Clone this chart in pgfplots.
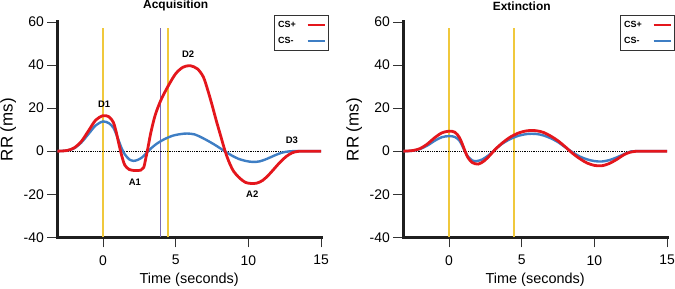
\documentclass[border=0pt]{standalone}
\usepackage{fontspec}
\setmainfont{Liberation Sans}
\usepackage{pgfplots}
\pgfplotsset{compat=1.18}
\definecolor{cred}{RGB}{228,22,28}
\definecolor{cblue}{RGB}{62,126,196}
\definecolor{cgold}{RGB}{240,200,60}
\definecolor{cpurple}{RGB}{120,105,180}

\pgfplotstableread{
x y
-3.15 0
-2.5 0.3
-2 1.5
-1.5 4.5
-1 9.5
-0.5 14.5
0 16.5
0.4 16
0.7 13.5
0.9 9
1.1 3
1.3 -2.5
1.5 -6.5
1.8 -8.5
2.2 -9
2.6 -8.8
2.8 -7.5
2.95 -3
3.1 2
3.3 9
3.6 17
4.0 24
4.5 30.5
5.0 36
5.5 39
6.0 39.7
6.5 38.2
6.9 34.5
7.2 28.5
7.5 21.5
7.8 14
8.1 7
8.4 0
8.7 -5.5
9.0 -9.5
9.4 -12.5
9.8 -14.5
10.2 -15
10.6 -14.8
11.0 -13.5
11.4 -11
11.8 -8
12.2 -5
12.6 -2.5
13.0 -0.8
13.4 -0.1
14 0
15 0
}\acqplus

\pgfplotstableread{
x y
-3.15 0
-2.5 0.3
-2 1.3
-1.5 4
-1 8
-0.5 12
0 13.8
0.4 13
0.7 11
0.9 8
1.1 4.5
1.3 1
1.5 -1.5
1.8 -3.8
2.1 -4.5
2.4 -4
2.7 -2.8
3.0 -0.8
3.3 1.3
3.7 3.5
4.2 5.5
4.8 7.2
5.4 8
5.8 8.2
6.3 7.8
6.8 6.3
7.3 4.5
7.8 2.5
8.3 0.3
8.8 -1.8
9.3 -3.5
9.8 -4.5
10.3 -5
10.8 -4.7
11.3 -3.5
11.8 -2
12.3 -0.7
12.8 -0.1
13.2 0
15 0
}\acqminus

\pgfplotstableread{
x y
-3.15 0
-2.5 0.3
-2 1.2
-1.5 3.3
-1 6.2
-0.5 8.5
0 9.3
0.4 8.8
0.7 6.5
0.9 3.5
1.1 0
1.3 -3
1.6 -5.3
2.0 -6
2.4 -4.6
2.8 -2
3.2 1
3.7 4
4.2 6.5
4.8 8.5
5.4 9.5
6.0 9.5
6.5 8.7
7.0 7
7.5 4.8
8.0 2
8.5 -1
9.0 -3.5
9.5 -5.5
10.0 -6.6
10.5 -6.8
11.0 -5.8
11.5 -4
12.0 -1.8
12.4 -0.6
12.8 -0.1
13.2 0
15 0
}\extplus

\pgfplotstableread{
x y
-3.15 0
-2.5 0.2
-2 1
-1.5 2.6
-1 4.8
-0.5 6.5
0 7
0.4 6.6
0.7 5
0.9 2.6
1.1 -0.2
1.3 -2.5
1.6 -4.3
1.9 -4.6
2.3 -3.8
2.7 -2
3.1 0.3
3.6 3.2
4.2 5.6
4.8 7.2
5.4 8
6.0 8
6.5 7.3
7.0 6
7.5 4.2
8.0 1.8
8.5 -0.5
9.0 -2.5
9.5 -3.8
10.0 -4.6
10.5 -4.8
11.0 -4.2
11.5 -3
12.0 -1.5
12.4 -0.4
12.8 0
15 0
}\extminus

\pgfplotsset{
 legend image code/.code={\draw[#1, line width=1.8bp] (0bp,0bp) -- (17bp,0bp);},
 myax/.style={
  scale only axis, width=263.7bp, height=215.3bp,
  xmin=-3.15, xmax=15, ymin=-40, ymax=60,
  axis x line=bottom, axis y line=left,
  axis line style={line width=3.2bp, -, black!88, line cap=rect},
  xtick={0,5,10,15}, ytick={-40,-20,0,20,40,60},
  tick align=outside, major tick length=10bp,
  tick style={black!80, line width=0.8bp},
  ticklabel style={font=\fontsize{14}{16}\selectfont},
  xticklabel style={yshift=-4.5bp},
  /pgf/number format/assume math mode=true,
  xlabel={Time (seconds)}, ylabel={RR (ms)},
  every axis x label/.style={at={(axis description cs:0.5,0)}, anchor=center, yshift=-42bp, font=\fontsize{14.5}{16}\selectfont},
  every axis y label/.style={at={(axis description cs:-0.186,0.5)}, rotate=90, anchor=center, font=\fontsize{17}{19}\selectfont},
  clip=false,
  legend plot pos=right, legend cell align=left,
  legend style={at={(rel axis cs:1.03,1.033)}, anchor=north east, draw=black!80, line width=0.6bp,
    font=\bfseries\fontsize{9}{10}\selectfont, inner xsep=3bp, inner ysep=5bp, row sep=6bp,
    column sep=10bp, nodes={inner sep=1bp}},
 }
}

\begin{document}
\begin{tikzpicture}[x=1bp,y=1bp]
\useasboundingbox (0,0) rectangle (675,288);
\begin{axis}[myax, at={(57.3bp,50.7bp)}, anchor=south west]
 \addplot[cgold, line width=1.5bp, forget plot] coordinates {(0,-40) (0,57)};
 \addplot[cpurple, line width=1.3bp, forget plot] coordinates {(3.96,-40) (3.96,57)};
 \addplot[cgold, line width=1.5bp, forget plot] coordinates {(4.47,-40) (4.47,57)};
 \addplot[black, densely dotted, line width=0.8bp, forget plot] coordinates {(-3.15,0) (15,0)};
 \addplot[cblue, line width=2.4bp, smooth, tension=0.5, forget plot] table {\acqminus};
 \addplot[cred, line width=2.8bp, smooth, tension=0.5] table {\acqplus};
 \addlegendentry{CS+}
 \addlegendimage{cblue, line width=2.4bp}
 \addlegendentry{CS-}
 \node[font=\bfseries\fontsize{12}{14}\selectfont] at (axis cs:5,67.5) {Acquisition};
 \node[font=\bfseries\fontsize{9.5}{10}\selectfont] at (axis cs:0.07,21.8) {D1};
 \node[font=\bfseries\fontsize{9.5}{10}\selectfont] at (axis cs:2.19,-14.2) {A1};
 \node[font=\bfseries\fontsize{9.5}{10}\selectfont] at (axis cs:5.86,45) {D2};
 \node[font=\bfseries\fontsize{9.5}{10}\selectfont] at (axis cs:10.27,-20) {A2};
 \node[font=\bfseries\fontsize{9.5}{10}\selectfont] at (axis cs:12.99,4.9) {D3};
\end{axis}
\begin{axis}[myax, at={(403.3bp,50.7bp)}, anchor=south west]
 \addplot[cgold, line width=1.5bp, forget plot] coordinates {(0,-40) (0,57)};
 \addplot[cgold, line width=1.5bp, forget plot] coordinates {(4.47,-40) (4.47,57)};
 \addplot[black, densely dotted, line width=0.8bp, forget plot] coordinates {(-3.15,0) (15,0)};
 \addplot[cblue, line width=2.4bp, smooth, tension=0.5, forget plot] table {\extminus};
 \addplot[cred, line width=2.8bp, smooth, tension=0.5] table {\extplus};
 \addlegendentry{CS+}
 \addlegendimage{cblue, line width=2.4bp}
 \addlegendentry{CS-}
 \node[font=\bfseries\fontsize{12}{14}\selectfont] at (axis cs:5,67.5) {Extinction};
\end{axis}
\end{tikzpicture}
\end{document}
